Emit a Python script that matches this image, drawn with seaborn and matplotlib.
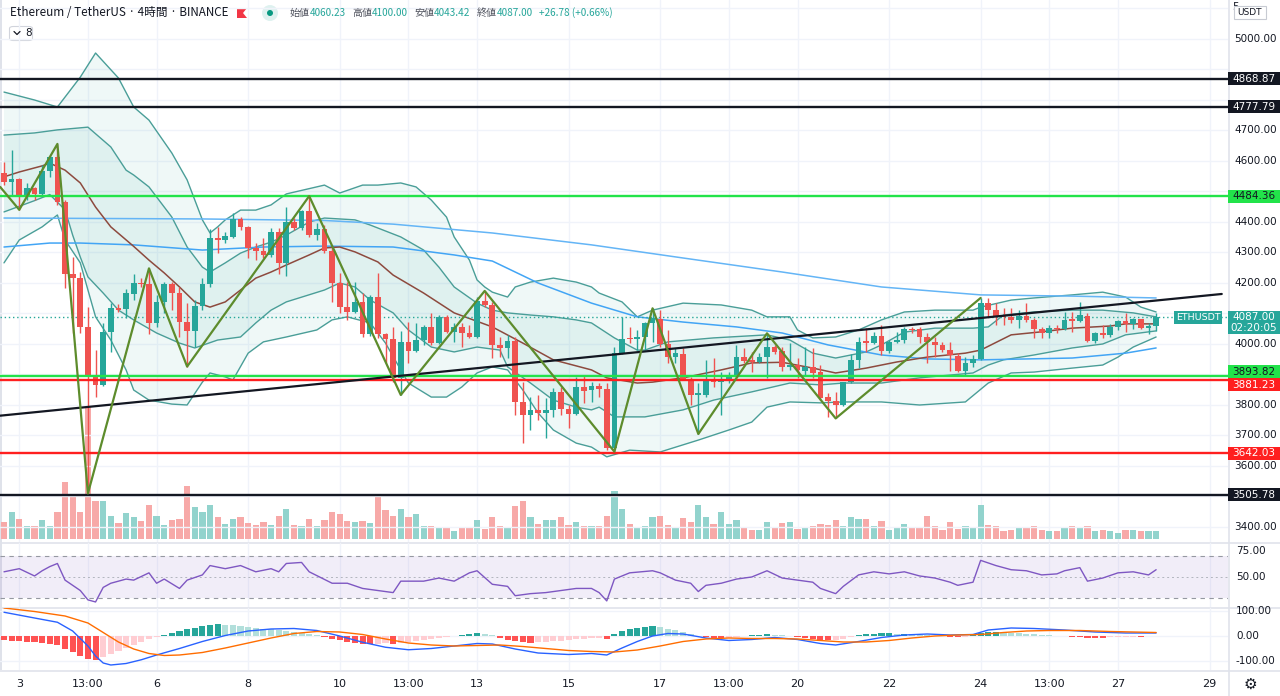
import numpy as np
import matplotlib
matplotlib.use("Agg")
import matplotlib.pyplot as plt
import matplotlib.transforms as mtrans
from matplotlib.patches import Rectangle, Polygon, Ellipse, FancyBboxPatch
from matplotlib.lines import Line2D
import seaborn as sns

# ---------------- data ----------------
opens = [4562, 4532, 4542, 4486, 4510, 4492, 4567, 4612, 4467, 4229,
         4215, 4057, 3895, 3865, 4038, 4119, 4115, 4164, 4201, 4196,
         4070, 4139, 4197, 4168, 4073, 4044, 4125, 4197, 4349, 4341,
         4352, 4409, 4385, 4316, 4306, 4292, 4368, 4267, 4401, 4381,
         4436, 4359, 4378, 4305, 4201, 4122, 4106, 4139, 4032, 4155,
         4033, 4015, 3887, 4008, 3978, 4013, 4057, 4002, 4090, 4040,
         4057, 4037, 4024, 4142, 4128, 3997, 3986, 4011, 3811, 3767,
         3783, 3775, 3783, 3841, 3786, 3770, 3860, 3849, 3862, 3852,
         3658, 3969, 4020, 4015, 4024, 4070, 4081, 3999, 3958, 3967,
         3884, 3833, 3833, 3884, 3876, 3880, 3893, 3958, 3947, 3942,
         3958, 3989, 3978, 3925, 3930, 3913, 3926, 3909, 3825, 3814,
         3800, 3874, 3947, 4010, 4002, 4026, 3977, 4008, 4013, 4049,
         4048, 4024, 4008, 3997, 3980, 3962, 3913, 3937, 3950, 4133,
         4111, 4092, 4090, 4079, 4093, 4079, 4049, 4035, 4051, 4050,
         4081, 4077, 4093, 4011, 4035, 4030, 4055, 4075, 4066, 4081,
         4051, 4060.23]
highs = [4598, 4636, 4545, 4527, 4515, 4587, 4616, 4656, 4472, 4286,
         4237, 4122, 3980, 4070, 4133, 4130, 4179, 4229, 4215, 4248,
         4161, 4204, 4204, 4188, 4133, 4144, 4215, 4376, 4385, 4368,
         4428, 4415, 4388, 4330, 4346, 4379, 4379, 4450, 4412, 4439,
         4485, 4396, 4390, 4319, 4232, 4204, 4204, 4166, 4161, 4232,
         4035, 4057, 4041, 4073, 4070, 4063, 4101, 4095, 4095, 4068,
         4068, 4062, 4155, 4174, 4139, 4024, 4029, 4024, 3876, 3827,
         3833, 3822, 3855, 3860, 3800, 3893, 3895, 3876, 3871, 3871,
         3991, 4090, 4057, 4046, 4073, 4117, 4111, 4046, 3986, 3986,
         3893, 3871, 3947, 3953, 3909, 3909, 3997, 3986, 3975, 3969,
         4035, 3997, 3989, 4002, 3953, 3991, 3986, 3931, 3838, 3844,
         3876, 3967, 4024, 4054, 4040, 4062, 4013, 4040, 4057, 4057,
         4057, 4037, 4024, 4008, 4008, 3971, 3958, 3963, 4150, 4150,
         4133, 4117, 4117, 4111, 4135, 4084, 4057, 4062, 4062, 4106,
         4106, 4139, 4101, 4040, 4062, 4066, 4079, 4103, 4084, 4081,
         4068, 4100.00]
lows = [4521, 4488, 4440, 4472, 4472, 4488, 4549, 4456, 4182, 4035,
        4035, 3510, 3827, 3862, 3975, 4105, 4084, 4144, 4188, 4033,
        4057, 4103, 4111, 4024, 3926, 3991, 4111, 4188, 4299, 4330,
        4346, 4374, 4281, 4275, 4281, 4286, 4229, 4223, 4374, 4374,
        4352, 4341, 4299, 4139, 4103, 4079, 4100, 4024, 4026, 4019,
        3937, 3876, 3833, 3937, 3975, 3997, 3997, 3999, 4035, 4008,
        3991, 4019, 4019, 4122, 3953, 3958, 3953, 3767, 3674, 3718,
        3751, 3691, 3762, 3767, 3723, 3767, 3805, 3811, 3827, 3652,
        3647, 3967, 4002, 3980, 3980, 4008, 3991, 3937, 3937, 3882,
        3800, 3705, 3827, 3860, 3767, 3871, 3887, 3937, 3909, 3937,
        3887, 3967, 3912, 3915, 3887, 3898, 3887, 3816, 3762, 3756,
        3797, 3871, 3920, 3975, 3999, 3964, 3971, 4002, 4002, 4035,
        4002, 3937, 3958, 3975, 3912, 3907, 3895, 3926, 3948, 4090,
        4062, 4062, 4068, 4051, 4073, 4019, 4019, 4019, 4035, 4046,
        4040, 4073, 4008, 4002, 4019, 4022, 4046, 4040, 4048, 4048,
        4033, 4043.42]
closes = [4532, 4542, 4488, 4510, 4492, 4567, 4612, 4467, 4229, 4215,
          4057, 3895, 3865, 4038, 4119, 4113, 4166, 4201, 4196, 4070,
          4139, 4197, 4168, 4073, 4044, 4125, 4197, 4349, 4341, 4354,
          4409, 4385, 4314, 4306, 4292, 4368, 4267, 4401, 4381, 4436,
          4359, 4378, 4305, 4201, 4122, 4106, 4139, 4032, 4155, 4033,
          4015, 3887, 4008, 3978, 4013, 4057, 4002, 4090, 4040, 4057,
          4037, 4024, 4142, 4128, 3997, 3986, 4011, 3811, 3767, 3783,
          3775, 3783, 3841, 3786, 3770, 3860, 3847, 3862, 3852, 3658,
          3969, 4018, 4015, 4024, 4070, 4084, 3999, 3958, 3969, 3884,
          3833, 3838, 3884, 3876, 3880, 3893, 3958, 3945, 3942, 3958,
          3989, 3975, 3923, 3930, 3915, 3926, 3906, 3822, 3814, 3800,
          3874, 3947, 4008, 4004, 4026, 3977, 4008, 4013, 4049, 4046,
          4024, 4008, 3997, 3980, 3964, 3913, 3937, 3952, 4133, 4111,
          4090, 4088, 4079, 4093, 4079, 4049, 4035, 4051, 4049, 4079,
          4077, 4095, 4011, 4035, 4030, 4057, 4075, 4066, 4081, 4051,
          4060.23, 4087.00]
volumes = [51, 80, 61, 38, 38, 58, 40, 82, 170, 133, 82, 403, 113, 113, 70, 48, 78, 66, 53, 103,
           70, 43, 58, 61, 160, 96,
           80, 101, 66, 46, 61, 66, 48, 41, 51, 43, 68, 91, 43, 38, 61, 38, 56, 80, 75, 53,
           51, 53, 48, 128, 88, 68,
           91, 65, 75, 38, 38, 35, 33, 25, 33, 35, 58, 31, 66, 40, 33, 98, 113, 65, 45, 56,
           56, 66, 43, 51, 38,
           40, 40, 68, 145, 90, 45, 35, 40, 66, 68, 43, 33, 63, 50, 101, 65, 46, 80, 45, 58,
           35, 28, 28, 51, 35, 48,
           51, 30, 33, 40, 46, 41, 58, 40, 65, 61, 61, 40, 55, 28, 33, 45, 33, 35, 70, 38,
           28, 51, 30, 38, 36,
           103, 41, 38, 23, 28, 35, 33, 38, 28, 25, 23, 33, 38, 35, 38, 23, 28, 25, 18, 28,
           28, 25, 25, 23]

# Bollinger-type bands, moving averages (sampled at candle indices)
bb_outer_up_i = [0, 4, 7, 10, 12, 15, 17, 19, 22, 24, 26, 27, 28, 29, 31, 33, 35, 37, 42, 44,
                 47, 49, 52, 54, 56, 58, 59, 61, 62, 63, 64, 66, 67, 69, 72, 75, 77, 78, 81, 83,
                 85, 89, 94, 98, 100, 103, 104, 106, 109, 112, 115, 118, 122, 127, 128, 132, 135,
                 140, 144, 147, 149, 151]
bb_outer_up_v = [4826, 4800, 4777, 4875, 4954, 4872, 4777, 4734, 4626, 4538, 4407, 4364, 4384,
                 4407, 4439, 4439, 4456, 4492, 4521, 4495, 4521, 4521, 4528, 4515, 4472, 4416,
                 4351, 4275, 4210, 4187, 4170, 4154, 4187, 4203, 4216, 4203, 4187, 4167, 4138,
                 4089, 4111, 4134, 4128, 4111, 4089, 4089, 4046, 4020, 4023, 4046, 4079, 4105,
                 4111, 4111, 4121, 4144, 4151, 4161, 4170, 4154, 4121, 4105]
bb_outer_lo_i = [0, 2, 5, 7, 8, 10, 11, 12, 14, 16, 17, 19, 22, 24, 26, 27, 29, 30, 32, 34,
                 37, 41, 43, 45, 48, 50, 52, 53, 56, 58, 60, 62, 64, 66, 68, 70, 72, 75, 77, 79,
                 82, 86, 91, 95, 98, 100, 103, 107, 110, 115, 120, 126, 129, 132, 135, 140, 144,
                 146, 148, 151]
bb_outer_lo_v = [4266, 4341, 4384, 4423, 4341, 4266, 4177, 4089, 4013, 3915, 3849, 3816, 3803,
                 3800, 3875, 3905, 3892, 3882, 3970, 4007, 4023, 4046, 4079, 4089, 4069, 4003,
                 3915, 3872, 3826, 3826, 3859, 3905, 3925, 3915, 3849, 3774, 3718, 3675, 3662,
                 3630, 3652, 3646, 3685, 3718, 3744, 3793, 3810, 3807, 3810, 3810, 3800, 3810,
                 3872, 3905, 3908, 3921, 3931, 3957, 3990, 4023]
bb_inner_up_i = [0, 4, 7, 11, 14, 16, 17, 19, 22, 24, 26, 27, 29, 31, 33, 35, 37, 40, 42, 46,
                 48, 52, 55, 57, 59, 62, 64, 66, 69, 72, 75, 77, 80, 83, 84, 87, 93, 100, 103,
                 106, 109, 113, 115, 118, 122, 127, 129, 131, 135, 140, 144, 148, 151]
bb_inner_up_v = [4685, 4692, 4702, 4711, 4646, 4570, 4554, 4515, 4416, 4318, 4252, 4236, 4266,
                 4298, 4318, 4334, 4357, 4400, 4413, 4407, 4390, 4351, 4308, 4252, 4187, 4134,
                 4111, 4102, 4095, 4089, 4079, 4069, 4020, 3980, 3980, 4007, 4020, 4030, 4013,
                 3970, 3954, 3974, 3997, 4039, 4052, 4052, 4056, 4095, 4105, 4111, 4111, 4102,
                 4089]
bb_inner_lo_i = [0, 4, 6, 8, 9, 10, 11, 13, 15, 17, 20, 23, 25, 28, 31, 33, 35, 37, 42, 44,
                 46, 48, 51, 53, 56, 59, 62, 65, 66, 69, 72, 75, 77, 78, 80, 84, 89, 93, 98, 103,
                 107, 110, 115, 120, 127, 129, 131, 135, 140, 144, 147, 151]
bb_inner_lo_v = [4433, 4470, 4490, 4440, 4357, 4285, 4220, 4167, 4111, 4079, 4036, 4003, 3987,
                 4013, 4023, 4069, 4111, 4138, 4177, 4200, 4187, 4144, 4102, 4046, 3990, 3974,
                 3990, 3980, 3925, 3872, 3816, 3793, 3784, 3793, 3761, 3761, 3784, 3816, 3843,
                 3872, 3866, 3872, 3872, 3889, 3905, 3931, 3948, 3964, 3987, 4000, 4030, 4043]
bb_basis_i = [0, 2, 5, 6, 8, 10, 12, 14, 17, 19, 21, 23, 25, 27, 29, 31, 33, 35, 37, 40,
              42, 44, 46, 49, 51, 55, 59, 64, 68, 72, 77, 79, 83, 85, 89, 94, 98, 102, 106, 109,
              113, 117, 121, 126, 128, 130, 132, 136, 140, 145, 147, 151]
bb_basis_v = [4548, 4564, 4584, 4593, 4570, 4528, 4449, 4384, 4320, 4275, 4233, 4187, 4138,
              4121, 4138, 4177, 4216, 4236, 4259, 4292, 4315, 4318, 4302, 4269, 4226, 4167,
              4102, 4056, 4003, 3948, 3915, 3889, 3872, 3875, 3889, 3915, 3938, 3940, 3921,
              3905, 3921, 3941, 3957, 3970, 3980, 4005, 4030, 4040, 4052, 4059, 4066, 4066]
ma_mid_i = [0, 6, 10, 17, 26, 34, 42, 51, 59, 64, 70, 77, 83, 89, 96, 102, 108, 115, 121, 128,
            140, 147, 151]
ma_mid_v = [4318, 4331, 4331, 4325, 4308, 4318, 4321, 4318, 4292, 4272, 4200, 4134, 4089, 4072,
            4056, 4036, 3997, 3964, 3951, 3948, 3954, 3970, 3987]
ma_long_i = [0, 26, 42, 51, 64, 77, 89, 102, 115, 128, 140, 151]
ma_long_v = [4413, 4410, 4405, 4393, 4364, 4325, 4282, 4236, 4187, 4161, 4157, 4151]

# drawings
zigzag_i = [-0.5, 2, 7, 11, 19, 24, 40, 52, 63, 80, 85, 91, 100, 109, 128]
zigzag_v = [4515, 4440, 4656, 3510, 4248, 3926, 4485, 3833, 4174, 3647, 4117, 3705, 4035, 3756, 4151]
trend_i = [-0.5, 159.6]
trend_v = [3765, 4164]
levels = [4868.87, 4777.79, 4484.36, 3893.82, 3881.23, 3642.03, 3505.78]
level_kind = ['black', 'black', 'green', 'green', 'red', 'red', 'black']
last_price = 4087.00

# RSI
rsi_i = [0, 2, 4, 5, 6, 7, 8, 10, 11, 12, 13, 14, 16, 17, 19, 20, 21, 23, 24, 26, 27, 29, 31, 33,
         35, 36, 37, 39, 40, 43, 45, 47, 49, 51, 52, 55, 57, 59, 61, 62, 64, 66, 67, 69, 71, 73,
         75, 77, 78, 79, 80, 82, 85, 86, 88, 90, 91, 92, 94, 96, 98, 100, 102, 104, 106, 107, 109,
         110, 112, 114, 116, 118, 120, 122, 124, 125, 127, 128, 130, 132, 134, 136, 138, 139, 141,
         142, 144, 146, 148, 150, 151]
rsi_v = [55, 58, 51, 56, 60, 63, 47, 37, 28, 26, 40, 44, 48, 47, 54, 44, 48, 39, 47, 52, 61, 58,
         61, 55, 58, 55, 63, 64, 55, 44, 44, 39, 37, 35, 46, 46, 49, 46, 54, 56, 43, 41, 32, 34,
         35, 37, 39, 39, 35, 27, 48, 54, 56, 54, 47, 44, 36, 42, 44, 48, 50, 56, 49, 47, 45, 39,
         34, 41, 52, 55, 53, 55, 51, 49, 45, 42, 45, 66, 61, 57, 56, 52, 53, 56, 59, 46, 49, 54,
         55, 52, 57]

# MACD
macd_i = [0, 4, 7, 9, 11, 12, 13, 14, 16, 18, 20, 23, 26, 29, 32, 35, 38, 41, 44, 47, 50, 53, 56,
          59, 62, 64, 67, 70, 74, 77, 79, 81, 83, 85, 87, 89, 92, 95, 98, 101, 104, 107, 109, 112,
          115, 118, 121, 124, 127, 129, 132, 135, 139, 143, 147, 151]
macd_v = [95, 72, 55, 20, -40, -80, -108, -116, -110, -95, -76, -50, -22, 2, 20, 28, 30, 22, 0,
          -25, -45, -55, -50, -40, -30, -32, -52, -68, -74, -70, -76, -48, -22, 0, 10, 8, -8, -18,
          -14, -6, -14, -30, -36, -22, -6, 4, 8, 4, 6, 24, 32, 30, 24, 16, 12, 12]
signal_i = [0, 4, 8, 11, 13, 15, 17, 19, 21, 23, 26, 29, 32, 35, 38, 41, 44, 47, 50, 53, 56, 59,
            62, 65, 68, 71, 74, 77, 80, 83, 86, 89, 92, 95, 98, 101, 104, 107, 110, 113, 116, 119,
            122, 125, 128, 131, 134, 137, 141, 145, 151]
signal_v = [112, 98, 80, 52, 14, -24, -52, -70, -78, -76, -66, -48, -28, -8, 10, 18, 16, 6, -12,
            -28, -36, -40, -38, -36, -42, -50, -58, -62, -64, -56, -40, -22, -12, -8, -10, -10,
            -12, -18, -24, -24, -18, -8, 0, 4, 6, 14, 20, 22, 22, 18, 14]
macd_hist = [-15, -18, -20, -22, -25, -28, -30, -35, -50, -65, -78, -90, -96, -85, -72, -60, -48,
             -36, -24, -12, -4, 6, 14, 22, 28, 34, 40, 44, 48, 46, 44, 40, 36, 32, 30, 28, 24, 20,
             16, 12, 8, 4, -4, -10, -16, -22, -26, -30, -32, -30, -28, -30, -28, -24, -20, -16,
             -12, -8, -4, 2, 6, 10, 12, 10, 4, -6, -14, -20, -24, -26, -24, -22, -20, -18, -14,
             -12, -10, -8, -6, -10, 8, 20, 28, 34, 38, 40, 36, 30, 24, 16, 8, 2, -4, -6, -8, -6,
             -2, 2, 4, 6, 8, 6, 4, 0, -4, -8, -10, -14, -16, -14, -10, -4, 4, 8, 10, 12, 12, 10,
             10, 8, 6, 4, 2, 0, -2, -4, -2, 4, 14, 18, 18, 16, 14, 12, 10, 8, 6, 4, 2, 0, -2, -4,
             -6, -6, -6, -5, -4, -3, -2, -2, -1, 0]

tick_idx = [2, 11, 20, 32, 44, 53, 62, 74, 86, 95, 104, 116, 128, 137, 146, 158]
tick_labels = ['3', '13:00', '6', '8', '10', '13:00', '13', '15', '17', '13:00',
               '20', '22', '24', '13:00', '27', '29']
price_ticks = [5000, 4700, 4600, 4400, 4300, 4200, 4000, 3800, 3700, 3600, 3400]
price_grid = list(range(3400, 5101, 100))

title_text = "Ethereum / TetherUS · 4時間 · BINANCE"
ohlc_labels = ["始値", "高値", "安値", "終値"]
ohlc_values = ["4060.23", "4100.00", "4043.42", "4087.00"]
change_text = "+26.78 (+0.66%)"

n = len(opens)
for arr in (highs, lows, closes, volumes, macd_hist):
    assert len(arr) == n, len(arr)

# ---------------- style ----------------
sns.set_theme(style="white")
plt.rcParams['font.family'] = ['DejaVu Sans', 'Noto Sans CJK JP']
CJK = ['Noto Sans CJK JP', 'DejaVu Sans']

TEAL = '#26a69a'
RED = '#ef5350'
TXT = '#131722'
GRID = '#f0f3fa'
BAND = '#4a9e98'

W, H = 1280, 696
fig = plt.figure(figsize=(W / 100, H / 100), dpi=100)
fig.patch.set_facecolor('white')


def fx(x):
    return x / W


def fy(y):
    return 1 - y / H


def px_axes(x0, y0, x1, y1, z):
    a = fig.add_axes([x0 / W, 1 - y1 / H, (x1 - x0) / W, (y1 - y0) / H], zorder=z)
    a.set_axis_off()
    return a


PLOT_R = 1228
X0, STEP = 4.0, 7.63
XL = ((0 - X0) / STEP, (PLOT_R - X0) / STEP)


def px_to_price(y):
    return 4000 + (344 - y) / 0.305


vax = px_axes(0, 0, PLOT_R, 542, 1)
ax = px_axes(0, 0, PLOT_R, 542, 2)
ax_r = px_axes(0, 543, PLOT_R, 607, 2)
ax_m = px_axes(0, 608, PLOT_R, 670, 2)
for a in (vax, ax, ax_r, ax_m):
    a.set_xlim(*XL)
ax.set_ylim(px_to_price(542), px_to_price(0))
vax.set_ylim(-9, -9 + 542 * 3)
ax_r.set_ylim(50 - 30 / 1.04, 50 + 34 / 1.04)
ax_m.set_ylim(-136, 112)

# grid
for a in (vax, ax_r, ax_m):
    for t in tick_idx:
        a.axvline(t, color=GRID, lw=1, zorder=0)
for p in price_grid:
    ax.axhline(p, color=GRID, lw=1, zorder=0)
for v in (100, 0, -100):
    ax_m.axhline(v, color=GRID, lw=1, zorder=0)

idx = np.arange(n)
o = np.array(opens, float); h = np.array(highs, float)
l = np.array(lows, float); c = np.array(closes, float)
up = c >= o
ccol = np.where(up, TEAL, RED)

# volume
vcol = np.where(up, '#92d3cd', '#f7a9a8')
vax.bar(idx, volumes, width=0.82, color=vcol, linewidth=0, zorder=2)

# band fills
ax.fill(np.r_[bb_outer_up_i, bb_outer_lo_i[::-1]], np.r_[bb_outer_up_v, bb_outer_lo_v[::-1]],
        color=TEAL, alpha=0.07, lw=0, zorder=1)
ax.fill(np.r_[bb_inner_up_i, bb_inner_lo_i[::-1]], np.r_[bb_inner_up_v, bb_inner_lo_v[::-1]],
        color=TEAL, alpha=0.08, lw=0, zorder=1)


def sline(a, xs, ys, color, lw=1.0, z=3, **kw):
    sns.lineplot(x=np.asarray(xs, float), y=np.asarray(ys, float), ax=a, color=color, lw=lw,
                 estimator=None, sort=False, legend=False, zorder=z, **kw)


for xs, ys in ((bb_outer_up_i, bb_outer_up_v), (bb_outer_lo_i, bb_outer_lo_v),
               (bb_inner_up_i, bb_inner_up_v), (bb_inner_lo_i, bb_inner_lo_v)):
    sline(ax, xs, ys, BAND, lw=1.0, z=2)
sline(ax, ma_long_i, ma_long_v, '#64b5f6', lw=1.1, z=2)
sline(ax, ma_mid_i, ma_mid_v, '#42a5f5', lw=1.1, z=2)
sline(ax, bb_basis_i, bb_basis_v, '#8d4a3e', lw=1.1, z=3)

# last price dotted line
ax.axhline(last_price, color=TEAL, lw=1, ls=(0, (1, 2)), zorder=3)

# candles
ax.vlines(idx, l, h, colors=ccol, lw=1, zorder=5)
body = np.maximum(np.abs(c - o), 3.3)
ax.bar(idx, body, bottom=np.minimum(o, c), width=0.75, color=ccol, linewidth=0, zorder=6)

# drawings
lvl_col = {'black': TXT, 'green': '#22e34a', 'red': '#ff1f1f'}
lvl_txt = {'black': 'white', 'green': TXT, 'red': 'white'}
for p, k in zip(levels, level_kind):
    ax.axhline(p, color=lvl_col[k], lw=1.7, zorder=7)
sline(ax, trend_i, trend_v, TXT, lw=1.6, z=7)
sline(ax, zigzag_i, zigzag_v, '#5d8c2c', lw=1.6, z=8)

# RSI pane
ax_r.axhspan(30, 70, color='#7e57c2', alpha=0.10, lw=0, zorder=1)
ax_r.axhline(70, color='#9598a1', lw=0.8, ls=(0, (4, 4)), zorder=2)
ax_r.axhline(30, color='#9598a1', lw=0.8, ls=(0, (4, 4)), zorder=2)
ax_r.axhline(50, color='#b2b5be', lw=0.7, ls=(0, (2, 3)), zorder=2)
sline(ax_r, rsi_i, rsi_v, '#7e57c2', lw=1.0, z=3)

# MACD pane
hist = np.array(macd_hist, float)
prev = np.r_[hist[0], hist[:-1]]
hcol = np.where(hist >= 0, np.where(hist >= prev, '#26a69a', '#b2dfdb'),
                np.where(hist <= prev, '#ff5252', '#ffcdd2'))
ax_m.bar(idx, hist, width=0.8, color=hcol, linewidth=0, zorder=2)
sline(ax_m, macd_i, macd_v, '#2962ff', lw=1.0, z=3)
sline(ax_m, signal_i, signal_v, '#ff6d00', lw=1.0, z=3)

# ---------------- right price scale ----------------
tr_main = mtrans.blended_transform_factory(fig.transFigure, ax.transData)
for p in price_ticks:
    ax.text(fx(1234), p, f"{p:.2f}", transform=tr_main, fontsize=7.5, color=TXT,
            ha='left', va='center', clip_on=False)

fig.canvas.draw()
renderer = fig.canvas.get_renderer()

# level labels with simple collision avoidance (display pixels)
disp = [ax.transData.transform((0, p))[1] for p in levels]
order = list(np.argsort(disp)[::-1])
BOXH = 13
ys_sorted = [disp[i] for i in order]
for k in range(1, len(ys_sorted)):
    if ys_sorted[k - 1] - ys_sorted[k] < BOXH:
        mid = (ys_sorted[k - 1] + ys_sorted[k]) / 2
        ys_sorted[k - 1] = mid + BOXH / 2
        ys_sorted[k] = mid - BOXH / 2
placed = {i: ys_sorted[j] for j, i in enumerate(order)}
for i, (p, k) in enumerate(zip(levels, level_kind)):
    yc = placed[i] / H
    fig.add_artist(Rectangle((fx(PLOT_R), yc - (BOXH / 2) / H), 52 / W, BOXH / H,
                             transform=fig.transFigure, color=lvl_col[k], lw=0, zorder=10))
    fig.text(fx(1254), yc, f"{p:.2f}", color=lvl_txt[k], fontsize=7.5, ha='center',
             va='center', zorder=11)

# current price tag
yc = ax.transData.transform((0, last_price))[1] / H
fig.add_artist(Rectangle((fx(PLOT_R), yc - 16.5 / H), 52 / W, 23 / H, transform=fig.transFigure,
                         color=TEAL, lw=0, zorder=10))
fig.text(fx(1254), yc, f"{last_price:.2f}", color='white', fontsize=7.5, ha='center',
         va='center', zorder=11)
fig.text(fx(1254), yc - 11 / H, "02:20:05", color='white', fontsize=7.5, ha='center',
         va='center', zorder=11)
fig.add_artist(Rectangle((fx(1174), yc - 6.5 / H), 48 / W, 13 / H, transform=fig.transFigure,
                         color=TEAL, lw=0, zorder=10))
fig.text(fx(1198), yc, "ETHUSDT", color='white', fontsize=6.8, ha='center', va='center',
         zorder=11)

tr_r = mtrans.blended_transform_factory(fig.transFigure, ax_r.transData)
for v in (75, 50):
    ax_r.text(fx(1236), v, f"{v:.2f}", transform=tr_r, fontsize=7.5, color=TXT, ha='left',
              va='center', clip_on=False)
tr_m = mtrans.blended_transform_factory(fig.transFigure, ax_m.transData)
for v in (100, 0, -100):
    ax_m.text(fx(1236), v, f"{v:.2f}", transform=tr_m, fontsize=7.5, color=TXT, ha='left',
              va='center', clip_on=False)

# time axis
tr_t = mtrans.blended_transform_factory(ax_m.transData, fig.transFigure)
for t, lab in zip(tick_idx, tick_labels):
    ax_m.text(t, fy(684), lab, transform=tr_t, fontsize=8, color=TXT, ha='center',
              va='center', clip_on=False)

# separators
SEP = '#e0e3eb'
for yy in (542.5, 607.5, 670.5):
    fig.add_artist(Line2D([0, 1], [fy(yy), fy(yy)], color=SEP, lw=1.2, transform=fig.transFigure))
fig.add_artist(Line2D([fx(PLOT_R + 0.5)] * 2, [0, 1], color=SEP, lw=1.2, transform=fig.transFigure))
fig.add_artist(Rectangle((0, fy(670)), 2 / W, 670 / H, transform=fig.transFigure,
                         color='#dfe2ea', lw=0))

# header: title fitted to span x 10..228
t_title = fig.text(fx(10), fy(13), title_text, fontsize=10, color=TXT,
                   ha='left', va='center', family=CJK)
wt = t_title.get_window_extent(renderer).width
t_title.set_fontsize(10 * 218 / wt)
fig.add_artist(Polygon([(fx(237), fy(8)), (fx(247), fy(8)), (fx(243), fy(13)), (fx(247), fy(18)),
                        (fx(237), fy(18))], closed=True, color='#f23645', lw=0,
                       transform=fig.transFigure))
fig.add_artist(Ellipse((fx(270), fy(13)), 16 / W, 16 / H, transform=fig.transFigure,
                       color=TEAL, alpha=0.15, lw=0))
fig.add_artist(Ellipse((fx(270), fy(13)), 6 / W, 6 / H, transform=fig.transFigure,
                       color='#089981', lw=0))

pieces = []
for lab, val in zip(ohlc_labels, ohlc_values):
    pieces += [(lab, '#50535e', 0.0), (val, TEAL, 6.0)]
pieces.append((change_text, TEAL, 0.0))


def draw_pieces(fs):
    arts = []
    xcur = 290.0
    for txt, col, gap in pieces:
        t = fig.text(fx(xcur), fy(13), txt, fontsize=fs, color=col, ha='left', va='center',
                     family=CJK)
        arts.append(t)
        xcur += t.get_window_extent(renderer).width + gap
    return arts, xcur


arts, xend = draw_pieces(8.0)
target = 612.0
fs2 = 8.0 * (target - 290 - 24) / (xend - 290 - 24)
for a in arts:
    a.remove()
draw_pieces(fs2)

fig.add_artist(FancyBboxPatch((fx(9.5), fy(40.5)), 23 / W, 14 / H,
                              boxstyle="round,pad=0,rounding_size=0.003",
                              transform=fig.transFigure, fc='white', ec='#d1d4dc', lw=0.8))
fig.add_artist(Line2D([fx(14), fx(17), fx(20)], [fy(31.5), fy(34.5), fy(31.5)], color=TXT,
                      lw=0.9, transform=fig.transFigure))
fig.text(fx(25), fy(33.5), "8", fontsize=7.5, color=TXT, ha='left', va='center')

# top right currency box & gear
fig.text(fx(1232), fy(7), "5", fontsize=7.5, color=TXT, ha='left', va='center')
fig.add_artist(Rectangle((fx(1234), fy(19)), 32 / W, 13 / H, transform=fig.transFigure,
                         fc='white', ec='#c8cbd3', lw=0.8, zorder=10))
fig.text(fx(1250), fy(12.5), "USDT", fontsize=6.5, color=TXT, ha='center', va='center', zorder=11)
fig.text(fx(1250), fy(684), "⚙", fontsize=11, color=TXT, ha='center', va='center')

fig.savefig("out.png", dpi=100, facecolor='white')
